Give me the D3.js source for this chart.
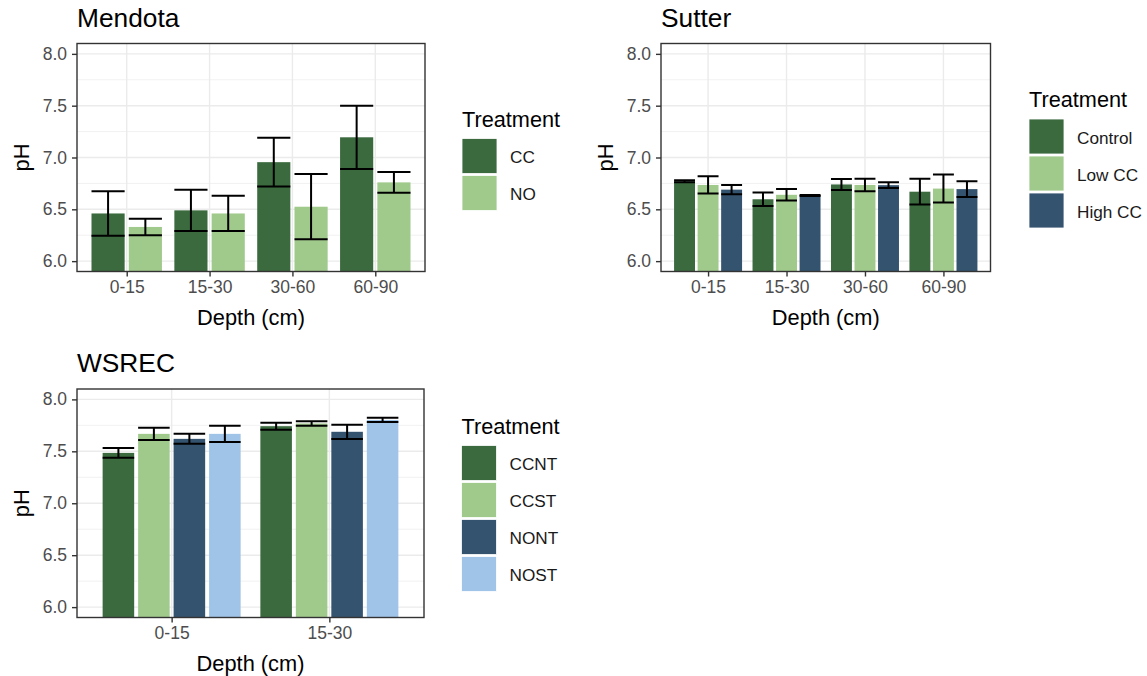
<!DOCTYPE html>
<html>
<head>
<meta charset="utf-8">
<script src="https://cdn.jsdelivr.net/npm/d3@7"></script>
<style>
  html, body { margin: 0; padding: 0; background: #ffffff; }
  svg { display: block; font-family: "Liberation Sans", Arial, sans-serif; }
</style>
</head>
<body>
<svg id="chart" width="1147" height="676"></svg>
<script>
// ---- Data: soil pH by depth (mean and standard error) ----
const yTicks = [6.0, 6.5, 7.0, 7.5, 8.0];
const yMinor = [6.25, 6.75, 7.25, 7.75];

// Mendota
const mendotaDepths = ["0-15", "15-30", "30-60", "60-90"];
const mendotaTreatments = ["CC", "NO"];
const mendotaCC = [6.46, 6.49, 6.955, 7.195];
const mendotaCCse = [0.215, 0.20, 0.235, 0.305];
const mendotaNO = [6.33, 6.46, 6.525, 6.76];
const mendotaNOse = [0.08, 0.17, 0.315, 0.10];

// Sutter
const sutterDepths = ["0-15", "15-30", "30-60", "60-90"];
const sutterTreatments = ["Control", "Low CC", "High CC"];
const sutterControl = [6.77, 6.597, 6.74, 6.67];
const sutterControlSe = [0.01, 0.065, 0.053, 0.124];
const sutterLow = [6.735, 6.64, 6.735, 6.70];
const sutterLowSe = [0.083, 0.055, 0.06, 0.135];
const sutterHigh = [6.69, 6.633, 6.733, 6.695];
const sutterHighSe = [0.045, 0.005, 0.027, 0.077];

// WSREC
const wsrecDepths = ["0-15", "15-30"];
const wsrecTreatments = ["CCNT", "CCST", "NONT", "NOST"];
const wsrecCCNT = [7.485, 7.742];
const wsrecCCNTse = [0.048, 0.034];
const wsrecCCST = [7.668, 7.768];
const wsrecCCSTse = [0.058, 0.021];
const wsrecNONT = [7.62, 7.688];
const wsrecNONTse = [0.048, 0.069];
const wsrecNOST = [7.668, 7.802];
const wsrecNOSTse = [0.078, 0.02];

// ---- Palette ----
const darkGreen = "#3B6A3F";
const lightGreen = "#A0C98C";
const darkBlue = "#34536F";
const lightBlue = "#A0C4E8";

const svg = d3.select("#chart");

function drawPanel(cfg) {
  const { title, depths, treatments, means, ses, colors, box, legend } = cfg;
  const g = svg.append("g");

  const x = d3.scalePoint().domain(depths).range([box.left, box.right]).padding(0.6);
  const step = x.step();
  const y = d3.scaleLinear().domain([5.9, 8.1]).range([box.bottom, box.top]);
  const dodge = d3.scaleBand().domain(treatments).range([-0.45 * step, 0.45 * step]);
  const barW = dodge.bandwidth() * 0.8 / 0.9;
  const color = d3.scaleOrdinal().domain(treatments).range(colors);

  const clipId = "clip-" + title;
  g.append("clipPath").attr("id", clipId)
    .append("rect")
    .attr("x", box.left).attr("y", box.top)
    .attr("width", box.right - box.left).attr("height", box.bottom - box.top);

  // grid
  const grid = g.append("g");
  grid.selectAll(".minor").data(yMinor).join("line")
    .attr("x1", box.left).attr("x2", box.right)
    .attr("y1", d => y(d)).attr("y2", d => y(d))
    .attr("stroke", "#EBEBEB").attr("stroke-width", 0.7);
  grid.selectAll(".major").data(yTicks).join("line")
    .attr("x1", box.left).attr("x2", box.right)
    .attr("y1", d => y(d)).attr("y2", d => y(d))
    .attr("stroke", "#EBEBEB").attr("stroke-width", 1.4);
  grid.selectAll(".vmajor").data(depths).join("line")
    .attr("x1", d => x(d)).attr("x2", d => x(d))
    .attr("y1", box.top).attr("y2", box.bottom)
    .attr("stroke", "#EBEBEB").attr("stroke-width", 1.4);

  // bars and error bars
  const rows = [];
  treatments.forEach((t, ti) => {
    depths.forEach((d, di) => {
      rows.push({ depth: d, treatment: t, mean: means[ti][di], se: ses[ti][di] });
    });
  });

  const marks = g.append("g").attr("clip-path", `url(#${clipId})`);
  marks.selectAll("rect.bar").data(rows).join("rect")
    .attr("class", "bar")
    .attr("x", d => x(d.depth) + dodge(d.treatment) + dodge.bandwidth() / 2 - barW / 2)
    .attr("width", barW)
    .attr("y", d => y(d.mean))
    .attr("height", d => y.range()[0] - y(d.mean) + 2)
    .attr("fill", d => color(d.treatment));

  const eb = marks.selectAll("g.eb").data(rows).join("g").attr("class", "eb")
    .attr("stroke", "#000").attr("stroke-width", 2).attr("fill", "none");
  eb.each(function (d) {
    const cx = x(d.depth) + dodge(d.treatment) + dodge.bandwidth() / 2;
    const e = d3.select(this);
    const hi = y(d.mean + d.se), lo = y(d.mean - d.se);
    e.append("line").attr("x1", cx).attr("x2", cx).attr("y1", hi).attr("y2", lo);
    e.append("line").attr("x1", cx - barW / 2).attr("x2", cx + barW / 2).attr("y1", hi).attr("y2", hi);
    e.append("line").attr("x1", cx - barW / 2).attr("x2", cx + barW / 2).attr("y1", lo).attr("y2", lo);
  });

  // panel border
  g.append("rect")
    .attr("x", box.left).attr("y", box.top)
    .attr("width", box.right - box.left).attr("height", box.bottom - box.top)
    .attr("fill", "none").attr("stroke", "#333333").attr("stroke-width", 1.4);

  // axes
  const yAxis = d3.axisLeft(y).tickValues(yTicks).tickFormat(d3.format(".1f")).tickSize(5).tickPadding(5);
  const ya = g.append("g").attr("transform", `translate(${box.left},0)`).call(yAxis);
  const xAxis = d3.axisBottom(x).tickSize(5).tickPadding(4);
  const xa = g.append("g").attr("transform", `translate(0,${box.bottom})`).call(xAxis);
  [ya, xa].forEach(a => {
    a.select(".domain").remove();
    a.selectAll(".tick line").attr("stroke", "#333333").attr("stroke-width", 1.4);
    a.selectAll(".tick text").attr("fill", "#4D4D4D")
      .style("font-size", "17.5px").style("font-family", "'Liberation Sans', Arial, sans-serif");
  });

  // titles
  g.append("text").attr("x", box.left).attr("y", box.top - 17)
    .style("font-size", "26.3px").attr("fill", "#000").text(title);
  g.append("text").attr("x", (box.left + box.right) / 2).attr("y", box.bottom + 53.5)
    .attr("text-anchor", "middle").style("font-size", "21.8px").attr("fill", "#000").text("Depth (cm)");
  g.append("text")
    .attr("transform", `translate(${box.left - 48},${(box.top + box.bottom) / 2}) rotate(-90)`)
    .attr("text-anchor", "middle").style("font-size", "21.8px").attr("fill", "#000").text("pH");

  // legend
  const lg = g.append("g").attr("transform", `translate(${legend.x},${legend.y})`);
  lg.append("text").attr("x", 0).attr("y", 0).style("font-size", "21.7px").attr("fill", "#000").text("Treatment");
  const keys = lg.selectAll("g.key").data(treatments).join("g").attr("class", "key")
    .attr("transform", (d, i) => `translate(0,${12 + i * 37})`);
  keys.append("rect").attr("width", 35).attr("height", 35).attr("fill", d => color(d))
    .attr("stroke", "#ffffff").attr("stroke-width", 0.8);
  keys.append("text").attr("x", 48).attr("y", 17.5).attr("dy", "0.42em")
    .style("font-size", "17.2px").attr("fill", "#1a1a1a").text(d => d);
}

drawPanel({
  title: "Mendota",
  depths: mendotaDepths,
  treatments: mendotaTreatments,
  means: [mendotaCC, mendotaNO],
  ses: [mendotaCCse, mendotaNOse],
  colors: [darkGreen, lightGreen],
  box: { left: 77, right: 425, top: 43.5, bottom: 271.5 },
  legend: { x: 462, y: 126.5 }
});

drawPanel({
  title: "Sutter",
  depths: sutterDepths,
  treatments: sutterTreatments,
  means: [sutterControl, sutterLow, sutterHigh],
  ses: [sutterControlSe, sutterLowSe, sutterHighSe],
  colors: [darkGreen, lightGreen, darkBlue],
  box: { left: 661, right: 990.5, top: 43.5, bottom: 271.5 },
  legend: { x: 1029, y: 107 }
});

drawPanel({
  title: "WSREC",
  depths: wsrecDepths,
  treatments: wsrecTreatments,
  means: [wsrecCCNT, wsrecCCST, wsrecNONT, wsrecNOST],
  ses: [wsrecCCNTse, wsrecCCSTse, wsrecNONTse, wsrecNOSTse],
  colors: [darkGreen, lightGreen, darkBlue, lightBlue],
  box: { left: 77, right: 424, top: 389, bottom: 617.5 },
  legend: { x: 461.5, y: 433.5 }
});
</script>
</body>
</html>
